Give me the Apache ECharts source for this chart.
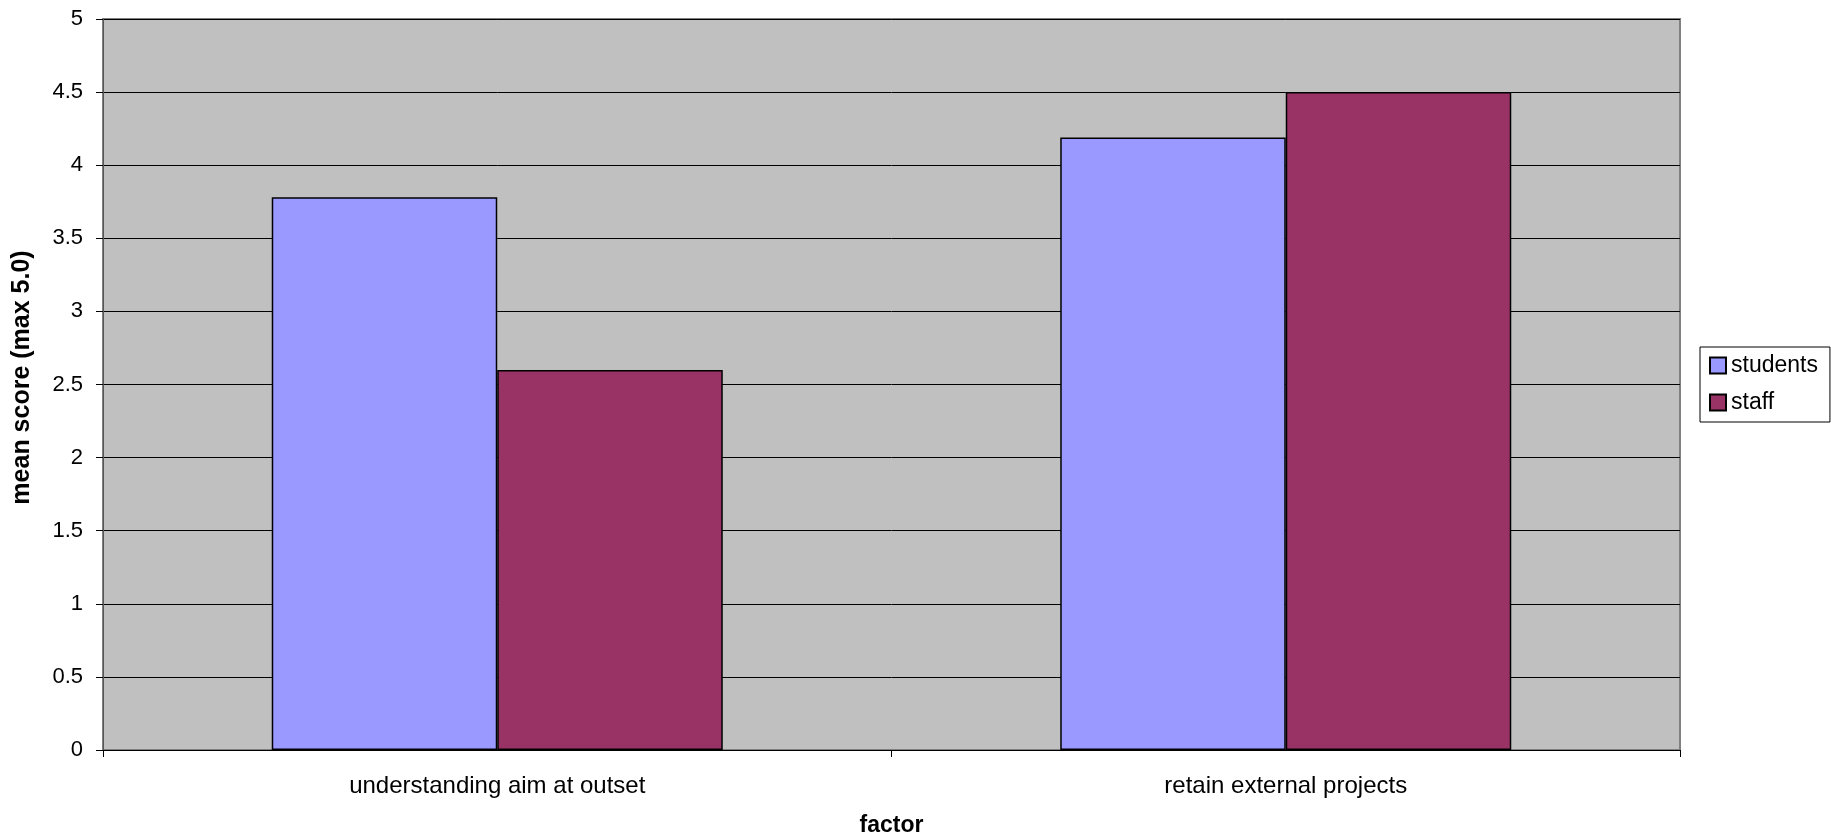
<!DOCTYPE html>
<html>
<head>
<meta charset="utf-8">
<script src="https://cdn.jsdelivr.net/npm/echarts@6/dist/echarts.min.js"></script>
<style>
  html, body { margin: 0; padding: 0; background: #ffffff; }
  #chart { width: 1831px; height: 836px; }
</style>
</head>
<body>
<div id="chart"></div>
<script>
// Mean scores per factor, for students and staff
const categories = ['understanding aim at outset', 'retain external projects'];
const studentsScores = [3.78, 4.19];
const staffScores = [2.6, 4.5];
const yTicks = { min: 0, max: 5, interval: 0.5 };

const FONT = '"Liberation Sans", Arial, sans-serif';

const chart = echarts.init(document.getElementById('chart'), null, { renderer: 'canvas' });

chart.setOption({
  animation: false,
  backgroundColor: '#ffffff',
  textStyle: { fontFamily: FONT, color: '#000' },
  grid: {
    left: 103, right: 151, top: 19, bottom: 86,
    outerBoundsMode: 'none',
    containLabel: false,
    show: true,
    backgroundColor: '#c0c0c0',
    borderColor: '#808080',
    borderWidth: 2
  },
  legend: {
    orient: 'vertical',
    left: 1700,
    top: 347,
    padding: [7, 12, 8, 9],
    itemGap: 14,
    itemWidth: 16,
    itemHeight: 16,
    icon: 'rect',
    borderColor: '#000',
    borderWidth: 1,
    backgroundColor: '#fff',
    textStyle: { fontFamily: FONT, fontSize: 23, color: '#000' },
    data: ['students', 'staff']
  },
  xAxis: {
    type: 'category',
    data: categories,
    name: 'factor',
    nameLocation: 'middle',
    nameGap: 64,
    nameTextStyle: { fontFamily: FONT, fontSize: 23, fontWeight: 'bold', color: '#000' },
    axisLine: { show: true, lineStyle: { color: '#000', width: 1 } },
    axisTick: { show: true, alignWithLabel: false, length: 7, lineStyle: { color: '#000' } },
    axisLabel: { fontFamily: FONT, fontSize: 24, color: '#000', margin: 24 },
    splitLine: { show: false }
  },
  yAxis: {
    type: 'value',
    min: yTicks.min,
    max: yTicks.max,
    interval: yTicks.interval,
    name: 'mean score (max 5.0)',
    nameLocation: 'middle',
    nameRotate: 90,
    nameGap: 68,
    nameTextStyle: { fontFamily: FONT, fontSize: 25, fontWeight: 'bold', color: '#000', padding: [0, 0, 0, 14] },
    axisLine: { show: true, lineStyle: { color: '#555', width: 1 } },
    axisTick: { show: true, length: 7, lineStyle: { color: '#000' } },
    axisLabel: { fontFamily: FONT, fontSize: 22, color: '#000', margin: 20 },
    splitLine: { show: true, lineStyle: { color: '#000', width: 1 } }
  },
  series: [
    {
      name: 'students',
      type: 'bar',
      data: studentsScores,
      barGap: '0%',
      barCategoryGap: '42.8%',
      itemStyle: { color: '#9999ff', borderColor: '#000', borderWidth: 1.5 }
    },
    {
      name: 'staff',
      type: 'bar',
      data: staffScores,
      barGap: '0%',
      barCategoryGap: '42.8%',
      itemStyle: { color: '#993366', borderColor: '#000', borderWidth: 1.5 }
    }
  ]
});
</script>
</body>
</html>
